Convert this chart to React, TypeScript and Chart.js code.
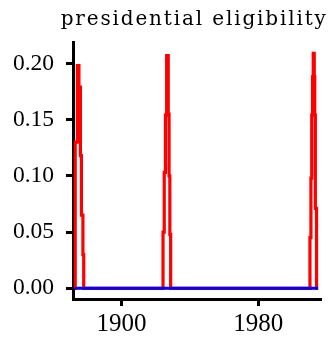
import React, { useEffect, useRef } from "react";
import { Chart, registerables } from "chart.js";

Chart.register(...registerables);

const titleText = "presidential eligibility";

const xTickValues = [1900, 1980];
const yTickValues = [0, 0.05, 0.1, 0.15, 0.2];

const blueYears = [1872.6, 2015.0];
const blueValues = [0, 0];

// step points: year where the value changes, and the new value
const redYears = [
  1872.6,
  1872.94, 1874.23, 1875.11, 1875.99, 1876.57, 1877.45, 1877.92,
  1924.3, 1925.01, 1925.71, 1926.41, 1927.35, 1927.82, 1928.29, 1928.76,
  2010.22, 2010.8, 2011.27, 2011.74, 2012.15, 2012.74, 2013.03, 2013.38, 2014.08,
  2015.0,
];
const redValues = [
  0,
  0.13, 0.198, 0.179, 0.118, 0.065, 0.03, 0,
  0.05, 0.103, 0.154, 0.207, 0.155, 0.1, 0.048, 0,
  0.045, 0.098, 0.154, 0.188, 0.209, 0.188, 0.154, 0.071, 0,
  0,
];

const titlePlugin = {
  id: "centeredTitle",
  afterDraw(chart: any) {
    const { ctx } = chart;
    ctx.save();
    ctx.font = '20px "DejaVu Serif"';
    (ctx as any).letterSpacing = "1.85px";
    ctx.fillStyle = "#000";
    ctx.textAlign = "center";
    ctx.textBaseline = "alphabetic";
    ctx.fillText(titleText, 194.2, 25);
    ctx.restore();
  },
};

export default function App() {
  const ref = useRef<HTMLCanvasElement | null>(null);

  useEffect(() => {
    if (!ref.current) return;
    const gridCommon = {
      display: true,
      drawOnChartArea: false,
      drawTicks: true,
      tickLength: 7,
      lineWidth: 3,
      color: "#000",
    };
    const borderCommon = { display: true, color: "#000", width: 3 };
    const chart = new Chart(ref.current, {
      type: "line",
      data: {
        datasets: [
          {
            label: "blue",
            data: blueYears.map((x, i) => ({ x, y: blueValues[i] })),
            borderColor: "#0000ff",
            borderWidth: 3,
            pointRadius: 0,
            fill: false,
          },
          {
            label: "red",
            data: redYears.map((x, i) => ({ x, y: redValues[i] })),
            borderColor: "#ff0000",
            borderWidth: 3.2,
            pointRadius: 0,
            fill: false,
            stepped: "before",
          },
        ],
      },
      options: {
        animation: false,
        responsive: false,
        devicePixelRatio: 1,
        layout: { padding: { top: 42, right: 13, left: 0, bottom: 0 } },
        plugins: {
          legend: { display: false },
          tooltip: { enabled: false },
          title: { display: false },
        },
        scales: {
          x: {
            type: "linear",
            min: 1871.65,
            max: 2016.1,
            border: borderCommon,
            grid: gridCommon,
            ticks: {
              font: { family: '"Liberation Serif", serif', size: 25 },
              color: "#000",
              padding: 3.5,
              maxRotation: 0,
              autoSkip: false,
              callback: (v: any) => String(v),
            },
            afterBuildTicks: (s: any) => {
              s.ticks = xTickValues.map((value) => ({ value }));
            },
            afterFit: (s: any) => {
              s.height = 47;
            },
          },
          y: {
            type: "linear",
            min: -0.0095,
            max: 0.219,
            border: borderCommon,
            grid: gridCommon,
            ticks: {
              font: { family: '"Liberation Serif", serif', size: 23.5 },
              color: "#000",
              padding: 12,
              autoSkip: false,
              callback: (v: any) => Number(v).toFixed(2),
            },
            afterBuildTicks: (s: any) => {
              s.ticks = yTickValues.map((value) => ({ value }));
            },
            afterFit: (s: any) => {
              s.width = 73;
            },
          },
        },
      } as any,
      plugins: [titlePlugin],
    });
    return () => chart.destroy();
  }, []);

  return (
    <div style={{ position: "fixed", left: 0, top: 0, width: 333, height: 346, background: "#fff" }}>
      <canvas ref={ref} width={333} height={346} style={{ width: 333, height: 346, display: "block" }} />
    </div>
  );
}
